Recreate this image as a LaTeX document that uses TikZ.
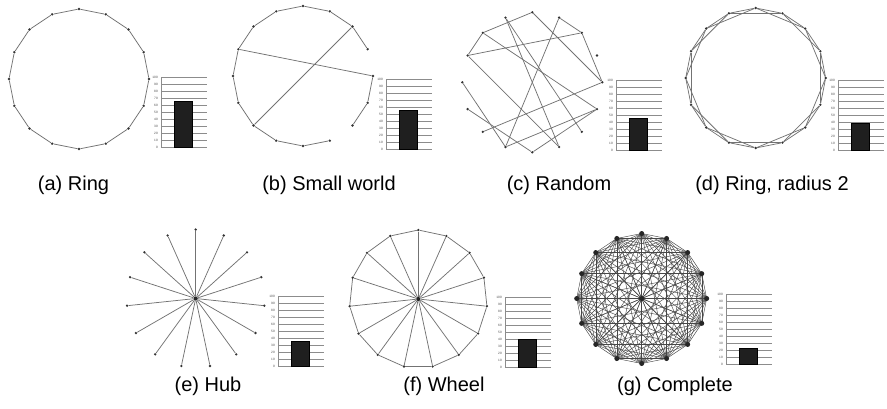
\documentclass[tikz,border=0pt]{standalone}
\usepackage{fontspec}
\setmainfont{Liberation Sans}
\usetikzlibrary{backgrounds}
\tikzset{
 dot/.style={circle,fill=black!80,inner sep=0pt,minimum size=2.6pt},
 hubdot/.style={circle,fill=black!85,inner sep=0pt,minimum size=4.2pt},
 edge/.style={draw=black!55,line width=0.75pt},
 kedge/.style={draw=black!72,line width=0.45pt},
 gridline/.style={draw=black!45,line width=0.5pt},
 ticklab/.style={font=\fontsize{3.2}{3.2}\selectfont,text=black!70,inner sep=0pt,anchor=east},
 barfill/.style={fill=black!88,draw=black,line width=0.4pt},
 captext/.style={font=\fontsize{20}{24}\selectfont,anchor=base,inner sep=0pt},
}
\newcommand{\mybarchart}[4]{%
 \begin{scope}[shift={(#1,#2)}]
  \draw[gridline] (0,0) -- (0,-70);
  \foreach \v in {0,10,...,100}{%
   \draw[gridline] (0,-0.7*\v) -- (46,-0.7*\v);
   \node[ticklab] (#4-\v) at (-3,-0.7*\v) {\v};}
  \fill[barfill] (13,0) rectangle (31,-0.7*#3);
 \end{scope}}
\begin{document}
\begin{tikzpicture}[x=1pt,y=-1pt]
\useasboundingbox (0,0) rectangle (887,408);
% (a) Ring
\begin{scope}[shift={(79,79)}]
\foreach \i in {0,...,15} \node[dot] (a\i) at (-90+22.5*\i:70) {};
\end{scope}
\foreach \i in {0,...,15}{\pgfmathtruncatemacro\j{mod(\i+1,16)}\draw[edge] (a\i) -- (a\j);}
% (b) Small world
\begin{scope}[shift={(303,76)}]
\foreach \i in {0,...,15} \node[dot] (b\i) at (-90+22.5*\i:70) {};
\end{scope}
\foreach \i/\j in {0/1,1/2,2/3,4/5,5/6,7/8,8/9,9/10,10/11,11/12,12/13,13/14,14/15,15/0,13/4,10/2}
 \draw[edge] (b\i) -- (b\j);
% (c) Random
\begin{scope}[shift={(532.3,82.3)}]
\foreach \i in {0,...,15} \node[dot] (c\i) at (-90+22.5*\i:70) {};
\end{scope}
\foreach \i/\j in {0/14,0/4,15/7,15/6,1/2,1/9,2/4,2/13,14/13,14/5,13/7,4/10,12/9,11/8,5/9,5/8}
 \draw[edge] (c\i) -- (c\j);
% (d) Ring radius 2
\begin{scope}[shift={(755.7,78)}]
\foreach \i in {0,...,15} \node[dot] (d\i) at (-90+22.5*\i:70) {};
\end{scope}
\foreach \i in {0,...,15}{\pgfmathtruncatemacro\j{mod(\i+1,16)}\pgfmathtruncatemacro\k{mod(\i+2,16)}%
 \draw[edge] (d\i) -- (d\j);\draw[edge] (d\i) -- (d\k);}
% (e) Hub
\node[hubdot] (e0) at (195.7,298.5) {};
\begin{scope}[shift={(195.7,298.5)}]
\foreach \i in {1,...,15} \node[dot] (e\i) at (-90+24*\i-24:69) {};
\end{scope}
\foreach \i in {1,...,15} \draw[edge] (e0) -- (e\i);
% (f) Wheel
\node[hubdot] (f0) at (418.3,299) {};
\begin{scope}[shift={(418.3,299)}]
\foreach \i in {1,...,15} \node[dot] (f\i) at (-90+24*\i-24:69) {};
\end{scope}
\foreach \i in {1,...,15}{\pgfmathtruncatemacro\j{mod(\i,15)+1}\draw[edge] (f0) -- (f\i);\draw[edge] (f\i) -- (f\j);}
% (g) Complete
\node[hubdot,minimum size=5pt] (g0) at (641.7,298.5) {};
\begin{scope}[shift={(641.7,298.5)}]
\foreach \i in {1,...,16} \node[dot,fill=black!85,minimum size=5pt] (g\i) at (-90+22.5*\i-22.5:65) {};
\end{scope}
\begin{scope}[on background layer]
\foreach \i in {0,...,15}{\pgfmathtruncatemacro\s{\i+1}\foreach \j in {\s,...,16}{\draw[kedge] (g\i.center) -- (g\j.center);}}
\end{scope}
% bar charts
\mybarchart{161}{147}{65}{ba}
\mybarchart{386}{149}{55}{bb}
\mybarchart{616}{150}{46}{bc}
\mybarchart{838}{150}{39}{bd}
\mybarchart{278}{366}{36}{be}
\mybarchart{505}{367}{40}{bf}
\mybarchart{726}{364}{22}{bg}
% captions
\node[captext] (capa) at (73.5,190) {(a) Ring};
\node[captext] (capb) at (329,190) {(b) Small world};
\node[captext] (capc) at (559,190) {(c) Random};
\node[captext] (capd) at (772,190) {(d) Ring, radius 2};
\node[captext] (cape) at (208,391) {(e) Hub};
\node[captext] (capf) at (444,391) {(f) Wheel};
\node[captext] (capg) at (675,391) {(g) Complete};
\end{tikzpicture}
\end{document}
